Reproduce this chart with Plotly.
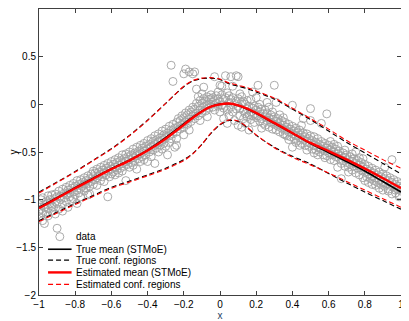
import plotly.graph_objects as go

# curves
curve_x = [-1, -0.9, -0.8, -0.7, -0.6, -0.5, -0.4, -0.3, -0.2, -0.15, -0.1, -0.05, 0,
           0.05, 0.1, 0.15, 0.2, 0.3, 0.4, 0.5, 0.6, 0.7, 0.8, 0.9, 1]
est_mean = [-1.09, -0.985, -0.88, -0.78, -0.68, -0.59, -0.485, -0.36, -0.215, -0.14, -0.075, -0.025, 0.0,
            0.008, -0.01, -0.045, -0.09, -0.195, -0.30, -0.405, -0.49, -0.58, -0.675, -0.775, -0.88]
true_mean = [-1.08, -0.98, -0.875, -0.775, -0.675, -0.585, -0.48, -0.35, -0.205, -0.135, -0.072, -0.022, 0.002,
             0.006, -0.012, -0.05, -0.095, -0.2, -0.305, -0.41, -0.505, -0.60, -0.70, -0.81, -0.92]
est_upper = [-0.93, -0.82, -0.71, -0.59, -0.47, -0.33, -0.17, 0.01, 0.19, 0.25, 0.275, 0.28, 0.265,
             0.225, 0.20, 0.175, 0.14, 0.065, -0.04, -0.15, -0.26, -0.38, -0.48, -0.58, -0.67]
est_lower = [-1.23, -1.14, -1.05, -0.965, -0.88, -0.815, -0.75, -0.68, -0.59, -0.52, -0.42, -0.30, -0.21,
             -0.165, -0.175, -0.24, -0.32, -0.455, -0.555, -0.635, -0.72, -0.81, -0.90, -0.99, -1.08]
true_upper = [-0.92, -0.815, -0.705, -0.585, -0.465, -0.325, -0.165, 0.01, 0.185, 0.245, 0.27, 0.275, 0.26,
              0.215, 0.19, 0.165, 0.13, 0.055, -0.05, -0.16, -0.28, -0.40, -0.51, -0.62, -0.73]
true_lower = [-1.22, -1.13, -1.04, -0.955, -0.87, -0.805, -0.74, -0.67, -0.58, -0.515, -0.42, -0.305, -0.215,
              -0.17, -0.18, -0.245, -0.325, -0.45, -0.545, -0.625, -0.725, -0.825, -0.92, -1.01, -1.10]

# scatter data: (x, [y values at that x])
data_left = [
    (-1.00, [-1.05, -1.12, -1.18]), (-0.99, [-1.00, -1.10]), (-0.98, [-1.14, -0.98, -1.22]),
    (-0.97, [-1.05, -1.25, -1.08]), (-0.96, [-1.02, -1.13]), (-0.95, [-0.96, -1.09, -1.17]),
    (-0.94, [-1.04, -1.00]), (-0.93, [-0.95, -1.12, -1.06]), (-0.92, [-0.99, -1.08]),
    (-0.91, [-0.94, -1.02, -1.15]), (-0.90, [-0.97, -1.04, -1.30]), (-0.89, [-0.91, -1.10]),
    (-0.88, [-0.96, -1.00]), (-0.87, [-0.89, -1.05, -1.12]), (-0.86, [-0.93, -0.98]),
    (-0.85, [-0.87, -1.02, -0.95]), (-0.84, [-0.90, -1.08]), (-0.83, [-0.85, -0.97, -0.93]),
    (-0.82, [-0.88, -1.01]), (-0.81, [-0.83, -0.92, -0.99]), (-0.80, [-0.86, -0.95]),
    (-0.79, [-0.80, -0.90, -1.04]), (-0.78, [-0.84, -0.93]), (-0.77, [-0.79, -0.88, -0.97]),
    (-0.76, [-0.82, -0.86]), (-0.75, [-0.77, -0.91, -0.84]), (-0.74, [-0.80, -0.88]),
    (-0.73, [-0.75, -0.83, -0.95]), (-0.72, [-0.78, -0.86, -0.94]), (-0.71, [-0.73, -0.81]),
    (-0.70, [-0.76, -0.84, -0.70]), (-0.69, [-0.72, -0.79]), (-0.68, [-0.68, -0.77, -0.85]),
    (-0.67, [-0.71, -0.75]), (-0.66, [-0.66, -0.80, -0.73]), (-0.65, [-0.69, -0.76]),
    (-0.64, [-0.64, -0.72, -0.81]), (-0.63, [-0.67, -0.74]), (-0.62, [-0.62, -0.70, -0.97]),
    (-0.61, [-0.65, -0.76]), (-0.60, [-0.60, -0.68, -0.73]),
]
data_rise = [
    (-0.59, [-0.63, -0.71]), (-0.58, [-0.58, -0.66, -0.74]), (-0.57, [-0.61, -0.69]),
    (-0.56, [-0.56, -0.64, -0.72]), (-0.55, [-0.59, -0.67]), (-0.54, [-0.53, -0.62, -0.70]),
    (-0.53, [-0.57, -0.65]), (-0.52, [-0.52, -0.60, -0.80]), (-0.51, [-0.55, -0.63]),
    (-0.50, [-0.50, -0.58, -0.66]), (-0.49, [-0.53, -0.61]), (-0.48, [-0.47, -0.56, -0.64]),
    (-0.47, [-0.51, -0.59]), (-0.46, [-0.45, -0.54, -0.68]), (-0.45, [-0.49, -0.57]),
    (-0.44, [-0.43, -0.52, -0.60]), (-0.43, [-0.46, -0.55]), (-0.42, [-0.41, -0.49, -0.58]),
    (-0.41, [-0.44, -0.53]), (-0.40, [-0.38, -0.47, -0.60]), (-0.39, [-0.42, -0.50]),
    (-0.38, [-0.36, -0.45, -0.55]), (-0.37, [-0.39, -0.48]), (-0.36, [-0.33, -0.42, -0.62]),
    (-0.35, [-0.37, -0.46]), (-0.34, [-0.31, -0.40, -0.50]), (-0.33, [-0.35, -0.43]),
    (-0.32, [-0.28, -0.38, -0.47]), (-0.31, [-0.32, -0.41]), (-0.30, [-0.26, -0.35, -0.44]),
    (-0.29, [-0.30, -0.53]), (-0.28, [-0.23, -0.33, -0.40]), (-0.27, [-0.27, -0.36, 0.41]),
    (-0.26, [-0.21, -0.31, 0.24]), (-0.25, [-0.25, -0.45]),
]
data_peak = [
    (-0.24, [-0.19, -0.29, -0.36, -0.43]), (-0.23, [-0.23, -0.15]), (-0.22, [-0.17, -0.26]),
    (-0.21, [-0.21, -0.12]), (-0.20, [-0.14, -0.24, -0.32, 0.32]), (-0.19, [-0.18, -0.09, 0.37]),
    (-0.18, [-0.11, -0.21]), (-0.17, [-0.15, -0.06, -0.27, 0.34]), (-0.16, [-0.08, -0.18]),
    (-0.15, [-0.12, -0.03, 0.32]), (-0.14, [-0.05, -0.15, 0.34]), (-0.13, [-0.09, 0.01, 0.16]),
    (-0.12, [-0.02, -0.12, 0.08]), (-0.11, [-0.06, 0.04, -0.17]), (-0.10, [0.01, -0.09, 0.11]),
    (-0.09, [-0.03, 0.06, 0.18]), (-0.08, [0.03, -0.07]), (-0.07, [-0.01, 0.08, -0.13]),
    (-0.06, [0.05, -0.04]), (-0.05, [0.00, 0.10, 0.06]), (-0.04, [0.07, -0.03]),
    (-0.03, [-0.06, 0.04, 0.29]), (-0.02, [0.09, 0.01]), (-0.01, [-0.02, 0.06, 0.13]),
    (0.00, [0.03, -0.08, 0.20]), (0.01, [0.10, -0.01, 0.19]), (0.02, [-0.04, 0.05, -0.15]),
    (0.03, [0.07, -0.02, 0.30]), (0.04, [0.12, -0.06, -0.20]), (0.05, [0.02, 0.09, -0.12]),
    (0.06, [-0.03, 0.05, 0.29]), (0.07, [0.07, -0.08, 0.19]), (0.08, [0.01, -0.17]),
    (0.09, [-0.05, 0.03, 0.30]), (0.10, [0.06, -0.02, 0.29, -0.22]),
]
data_fall = [
    (0.11, [-0.04, -0.12, 0.11]), (0.12, [0.02, -0.24, 0.08]), (0.13, [-0.07, -0.15, 0.03]),
    (0.14, [0.00, -0.10, -0.20]), (0.15, [-0.05, 0.04, -0.13]), (0.16, [-0.02, -0.11, -0.27]),
    (0.17, [-0.08, 0.05, -0.16]), (0.18, [-0.04, 0.13, -0.12]), (0.19, [-0.10, -0.02, -0.19]),
    (0.20, [-0.06, -0.14, 0.07]), (0.21, [-0.12, 0.20, -0.03]), (0.22, [-0.08, -0.18, 0.00]),
    (0.23, [-0.15, -0.25, -0.05]), (0.24, [-0.10, -0.20]), (0.25, [-0.13, -0.06, -0.22]),
    (0.26, [-0.17, 0.02, -0.09]), (0.27, [-0.14, -0.03, -0.24]), (0.28, [-0.19, -0.11]),
    (0.29, [-0.16, -0.26, -0.08]), (0.30, [-0.21, -0.13, 0.20]), (0.31, [-0.18, 0.02, -0.27]),
    (0.32, [-0.23, -0.15]), (0.33, [-0.20, -0.29, -0.11]), (0.34, [-0.25, -0.17]),
    (0.35, [-0.22, -0.31, -0.14]), (0.36, [-0.27, -0.19, -0.32]), (0.37, [-0.24, -0.33]),
    (0.38, [-0.29, -0.21, -0.37]), (0.39, [-0.26, -0.34]), (0.40, [-0.31, -0.01, -0.45, -0.23]),
    (0.41, [-0.28, -0.36]), (0.42, [-0.33, -0.25, -0.40]), (0.43, [-0.30, -0.38]),
    (0.44, [-0.35, -0.27, -0.43]), (0.45, [-0.32, -0.41, -0.22]), (0.46, [-0.37, -0.15, -0.30]),
    (0.47, [-0.34, -0.43]), (0.48, [-0.39, -0.48, -0.31]), (0.49, [-0.36, -0.44]),
    (0.50, [-0.41, -0.17, -0.045, -0.33]),
]
data_right = [
    (0.51, [-0.38, -0.47]), (0.52, [-0.43, -0.34, -0.51]), (0.53, [-0.40, -0.48]),
    (0.54, [-0.45, -0.36, -0.53]), (0.55, [-0.42, -0.50]), (0.56, [-0.47, -0.20, -0.39]),
    (0.57, [-0.44, -0.53]), (0.58, [-0.49, -0.41, -0.56]), (0.59, [-0.46, -0.10, -0.54]),
    (0.60, [-0.51, -0.43]), (0.61, [-0.48, -0.39, -0.58]), (0.62, [-0.53, -0.45]),
    (0.63, [-0.50, -0.59, -0.42]), (0.64, [-0.55, -0.47]), (0.65, [-0.52, -0.66, -0.44]),
    (0.66, [-0.57, -0.49]), (0.67, [-0.54, -0.62, -0.78]), (0.68, [-0.59, -0.51]),
    (0.69, [-0.56, -0.65, -0.48]), (0.70, [-0.61, -0.53]), (0.71, [-0.58, -0.71, -0.66]),
    (0.72, [-0.63, -0.55]), (0.73, [-0.60, -0.69, -0.52]), (0.74, [-0.65, -0.57]),
    (0.75, [-0.62, -0.50, -0.72]), (0.76, [-0.67, -0.59]), (0.77, [-0.64, -0.74, -0.56]),
    (0.78, [-0.69, -0.61]), (0.79, [-0.66, -0.57, -0.77]), (0.80, [-0.71, -0.80, -0.63]),
    (0.81, [-0.68, -0.76]), (0.82, [-0.73, -0.65, -0.82]), (0.83, [-0.70, -0.78]),
    (0.84, [-0.75, -0.67, -0.84]), (0.85, [-0.72, -0.80]), (0.86, [-0.77, -0.85, -0.69]),
    (0.87, [-0.74, -0.82]), (0.88, [-0.79, -0.71, -0.88]), (0.89, [-0.76, -0.84]),
    (0.90, [-0.81, -0.73, -0.90]), (0.91, [-0.78, -0.66, -0.86]), (0.92, [-0.83, -0.75]),
    (0.93, [-0.80, -0.89, -0.91]), (0.94, [-0.85, -0.77]), (0.95, [-0.82, -0.58, -0.94]),
    (0.96, [-0.87, -0.79]), (0.97, [-0.84, -0.93, -0.90]), (0.98, [-0.89, -0.81]),
    (0.99, [-0.86, -0.95, -0.97]), (1.00, [-0.91, -0.83, -0.88]),
]

x_ticks = [-1, -0.8, -0.6, -0.4, -0.2, 0, 0.2, 0.4, 0.6, 0.8, 1]
y_ticks = [-2, -1.5, -1, -0.5, 0, 0.5, 1]

legend_labels = ["data", "True mean (STMoE)", "True conf. regions",
                 "Estimated mean (STMoE)", "Estimated conf. regions"]

xs, ys = [], []
for group in [data_left, data_rise, data_peak, data_fall, data_right]:
    for x, yv in group:
        for y in yv:
            xs.append(x)
            ys.append(y)

FONT = "Liberation Sans, Arial, sans-serif"
GRAY = "#a0a0a0"
fig = go.Figure()

fig.add_trace(go.Scatter(x=xs, y=ys, mode="markers",
                         marker=dict(symbol="circle-open", size=8, color=GRAY, line=dict(width=0.9)),
                         showlegend=False))


def add_line(y, color, width, dash):
    fig.add_trace(go.Scatter(x=curve_x, y=y, mode="lines", showlegend=False,
                             line=dict(color=color, width=width, dash=dash, shape="spline", smoothing=0.8)))


add_line(true_mean, "black", 1.6, "solid")
add_line(true_upper, "black", 1.1, "5px,3px")
add_line(true_lower, "black", 1.1, "5px,3px")
add_line(est_mean, "#ff0000", 2.4, "solid")
add_line(est_upper, "#ff0000", 1.1, "5px,3px")
add_line(est_lower, "#ff0000", 1.1, "5px,3px")

# hand-drawn legend, matlab style (no box)
rows_y = [0.204, 0.160, 0.122, 0.079, 0.037]
styles = [None, ("black", 1.6, "solid"), ("black", 1.1, "5px,3px"),
          ("#ff0000", 2.4, "solid"), ("#ff0000", 1.1, "5px,3px")]
shapes = []
annotations = []
for label, ry, st in zip(legend_labels, rows_y, styles):
    if st is None:
        shapes.append(dict(type="circle", xref="paper", yref="paper", xsizemode="pixel", ysizemode="pixel",
                           xanchor=0.0575, yanchor=ry, x0=-4, x1=4, y0=-4, y1=4,
                           line=dict(color=GRAY, width=0.9)))
    else:
        shapes.append(dict(type="line", xref="paper", yref="paper", x0=0.025, x1=0.09, y0=ry, y1=ry,
                           line=dict(color=st[0], width=st[1], dash=st[2])))
    annotations.append(dict(x=0.097, y=ry, xref="paper", yref="paper", text=label, showarrow=False,
                            xanchor="left", yanchor="middle", font=dict(size=10, color="black", family=FONT)))

# y label placed by hand, a little further left than plotly puts it
annotations.append(dict(x=-0.0705, y=0.5, xref="paper", yref="paper", text="y", showarrow=False,
                        textangle=-90, xanchor="center", yanchor="middle",
                        font=dict(size=10, color="black", family=FONT)))

axis_common = dict(showgrid=False, zeroline=False, showline=True, linecolor="#404040", linewidth=1,
                   mirror="ticks", ticks="inside", ticklen=4, tickcolor="#404040", automargin=False,
                   tickfont=dict(size=10, color="black", family=FONT))
fig.update_xaxes(range=[-1, 1], tickvals=x_ticks,
                 title=dict(text="x", font=dict(size=10, family=FONT), standoff=0), **axis_common)
fig.update_yaxes(range=[-2, 1], tickvals=y_ticks, **axis_common)

# the page body adds an 8px offset, so the figure is 8px smaller than the window
fig.update_layout(width=401, height=313, margin=dict(l=31, r=8, t=1, b=26),
                  plot_bgcolor="white", paper_bgcolor="white", showlegend=False,
                  shapes=shapes, annotations=annotations)

fig.write_html("out.html")
